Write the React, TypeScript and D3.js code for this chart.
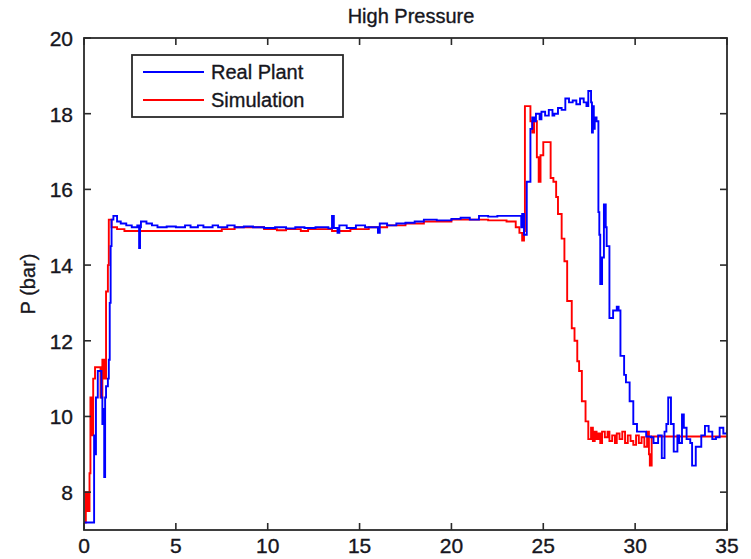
import React from "react";
import * as d3 from "d3";

const xTicks = [0, 5, 10, 15, 20, 25, 30, 35];
const yTicks = [8, 10, 12, 14, 16, 18, 20];
const seriesNames = ["Real Plant", "Simulation"];

const realT = [0, 0.5, 0.55, 0.6, 0.65, 0.75, 0.9, 0.95, 1.0, 1.05, 1.1, 1.15, 1.2, 1.3, 1.35, 1.4, 1.45, 1.5, 1.6, 1.8, 2.0, 2.3, 2.6, 2.9, 3.0, 3.05, 3.1, 3.4, 3.7, 4.0, 4.5, 5.0, 5.5, 5.8, 6.2, 6.5, 7.0, 7.3, 7.8, 8.2, 8.7, 9.2, 9.8, 10.4, 11.0, 11.5, 12.0, 12.6, 13.3, 13.5, 13.6, 13.8, 13.9, 14.3, 14.8, 15.3, 15.8, 16.0, 16.1, 16.5, 17.0, 17.5, 18.0, 18.5, 19.2, 20.0, 20.5, 21.0, 21.5, 22.0, 22.5, 23.8, 23.85, 23.95, 24.1, 24.3, 24.4, 24.5, 24.6, 24.8, 24.9, 25.1, 25.3, 25.5, 25.6, 25.8, 26.0, 26.2, 26.4, 26.6, 26.8, 27.0, 27.2, 27.35, 27.45, 27.6, 27.65, 27.7, 27.75, 27.8, 27.9, 28.0, 28.05, 28.1, 28.2, 28.3, 28.4, 28.45, 28.6, 28.8, 29.0, 29.1, 29.2, 29.4, 29.5, 29.7, 29.9, 30.1, 30.6, 30.85, 31.0, 31.25, 31.45, 31.6, 31.7, 31.8, 31.95, 32.1, 32.3, 32.4, 32.55, 32.65, 32.8, 33.0, 33.1, 33.3, 33.6, 33.8, 34.0, 34.2, 34.4, 34.6, 34.8, 35];
const realP = [7.2, 7.2, 9.5, 9.0, 10.5, 11.2, 11.2, 10.5, 9.8, 10.2, 8.4, 10.5, 10.8, 11.0, 11.5, 13.0, 14.5, 15.2, 15.3, 15.15, 15.1, 15.05, 15.0, 15.05, 14.45, 15.0, 15.15, 15.1, 15.05, 15.0, 15.02, 15.0, 15.05, 15.0, 15.05, 15.0, 15.05, 15.0, 15.05, 15.0, 15.02, 15.0, 14.98, 15.0, 14.97, 15.0, 14.98, 15.0, 14.97, 15.3, 14.98, 14.85, 15.05, 14.98, 15.05, 15.0, 15.0, 14.85, 15.1, 15.05, 15.1, 15.12, 15.15, 15.2, 15.18, 15.22, 15.25, 15.2, 15.3, 15.28, 15.3, 15.0, 15.35, 14.8, 16.2, 17.6, 17.9, 17.8, 18.0, 17.85, 18.05, 17.95, 18.1, 17.95, 18.0, 18.15, 18.1, 18.4, 18.3, 18.35, 18.25, 18.4, 18.3, 18.2, 18.6, 18.3, 17.5, 18.2, 17.6, 17.9, 17.8, 15.4, 14.8, 13.5, 14.2, 15.6, 15.0, 14.5, 12.6, 12.8, 12.9, 12.8, 11.6, 11.1, 10.9, 10.4, 9.8, 9.6, 9.47, 9.45, 9.3, 9.5, 8.9, 9.6, 9.8, 10.5, 9.8, 9.07, 9.5, 9.3, 10.05, 9.7, 9.4, 9.3, 8.7, 9.2, 9.5, 9.75, 9.6, 9.4, 9.45, 9.7, 9.55, 9.65, 9.55];

const simT = [0, 0.1, 0.2, 0.3, 0.35, 0.4, 0.5, 0.6, 0.8, 0.9, 1.0, 1.1, 1.2, 1.3, 1.35, 1.5, 1.8, 2.2, 7.5, 8.2, 9.8, 10.5, 11.0, 11.8, 12.2, 13.5, 14.5, 15.5, 16.5, 17.5, 18.5, 20.0, 21.0, 22.0, 23.0, 23.5, 23.7, 23.85, 23.95, 24.0, 24.3, 24.4, 24.5, 24.65, 24.75, 24.85, 25.0, 25.4, 25.55, 25.7, 25.8, 26.0, 26.15, 26.3, 26.55, 26.7, 26.85, 26.95, 27.1, 27.3, 27.45, 27.6, 27.7, 27.8, 27.9, 28.0, 28.1, 28.2, 28.35, 28.5, 28.6, 28.75, 28.9, 29.0, 29.15, 29.3, 29.45, 29.6, 29.75, 29.9, 30.05, 30.2, 30.35, 30.5, 30.65, 30.75, 30.8, 30.9, 35];
const simP = [7.2, 8.0, 7.5, 8.5, 10.5, 9.5, 11.0, 11.3, 11.3, 10.5, 11.5, 11.0, 13.3, 14.0, 15.2, 15.0, 14.95, 14.9, 14.95, 15.0, 14.95, 14.92, 14.95, 14.9, 14.95, 14.9, 14.95, 15.0, 15.05, 15.1, 15.15, 15.2, 15.2, 15.18, 15.15, 15.0, 14.85, 14.65, 14.9, 18.2, 17.8, 17.5, 17.8, 16.85, 16.2, 16.9, 17.25, 16.3, 16.2, 15.8, 15.35, 14.7, 14.1, 13.05, 12.33, 12.0, 11.46, 11.2, 10.4, 9.87, 9.4, 9.7, 9.35, 9.6, 9.4, 9.55, 9.3, 9.6, 9.45, 9.6, 9.35, 9.5, 9.3, 9.55, 9.4, 9.6, 9.3, 9.5, 9.35, 9.25, 9.5, 9.3, 9.45, 9.2, 9.6, 9.0, 8.7, 9.47, 9.47];

const W = 751;
const H = 559;
const margin = { left: 84, right: 24, top: 38, bottom: 29 };

export default function App() {
  const x = d3.scaleLinear().domain([0, 35]).range([margin.left, W - margin.right]);
  const y = d3.scaleLinear().domain([7, 20]).range([H - margin.bottom, margin.top]);
  const line = d3
    .line<[number, number]>()
    .x((d) => x(d[0]))
    .y((d) => y(d[1]))
    .curve(d3.curveStepAfter);
  const real = realT.map((t, i) => [t, realP[i]] as [number, number]);
  const sim = simT.map((t, i) => [t, simP[i]] as [number, number]);
  const x0 = x(0), x1 = x(35), y0 = y(7), y1 = y(20);
  const font = "Liberation Sans, Arial, sans-serif";
  const tl = 7;
  const txt = { fill: "#161620", stroke: "#161620", strokeWidth: 0.35 };
  return (
    <svg width={W} height={H} style={{ position: "absolute", left: 0, top: 0 }} fontFamily={font}>
      <rect x={0} y={0} width={W} height={H} fill="#fff" />
      <defs>
        <clipPath id="pa">
          <rect x={x0} y={y1} width={x1 - x0} height={y0 - y1} />
        </clipPath>
      </defs>
      <g clipPath="url(#pa)" fill="none" strokeWidth={1.9}>
        <path d={line(sim) || ""} stroke="#ff0000" />
        <path d={line(real) || ""} stroke="#0000ff" />
      </g>
      <rect x={x0} y={y1} width={x1 - x0} height={y0 - y1} fill="none" stroke="#2a2a2a" strokeWidth={1.8} />
      {xTicks.map((t) => (
        <g key={"x" + t}>
          <line x1={x(t)} x2={x(t)} y1={y0} y2={y0 - tl} stroke="#2a2a2a" strokeWidth={1.6} />
          <line x1={x(t)} x2={x(t)} y1={y1} y2={y1 + tl} stroke="#2a2a2a" strokeWidth={1.6} />
          <text x={x(t)} y={y0 + 23} fontSize={21} textAnchor="middle" {...txt}>
            {t}
          </text>
        </g>
      ))}
      {yTicks.map((t) => (
        <g key={"y" + t}>
          <line x1={x0} x2={x0 + tl} y1={y(t)} y2={y(t)} stroke="#2a2a2a" strokeWidth={1.6} />
          <line x1={x1} x2={x1 - tl} y1={y(t)} y2={y(t)} stroke="#2a2a2a" strokeWidth={1.6} />
          <text x={x0 - 11} y={y(t) + 8} fontSize={21} textAnchor="end" {...txt}>
            {t}
          </text>
        </g>
      ))}
      <text x={411} y={23} fontSize={20} textAnchor="middle" {...txt}>
        High Pressure
      </text>
      <text transform={`translate(35, ${(y0 + y1) / 2}) rotate(-90)`} fontSize={20} textAnchor="middle" {...txt}>
        P (bar)
      </text>
      <g>
        <rect x={132} y={55} width={211} height={62} fill="#fff" stroke="#2a2a2a" strokeWidth={1.8} />
        <line x1={143} x2={204} y1={72} y2={72} stroke="#0000ff" strokeWidth={1.9} />
        <text x={211} y={79} fontSize={20} {...txt}>{seriesNames[0]}</text>
        <line x1={143} x2={204} y1={100} y2={100} stroke="#ff0000" strokeWidth={1.9} />
        <text x={211} y={107} fontSize={20} {...txt}>{seriesNames[1]}</text>
      </g>
    </svg>
  );
}
